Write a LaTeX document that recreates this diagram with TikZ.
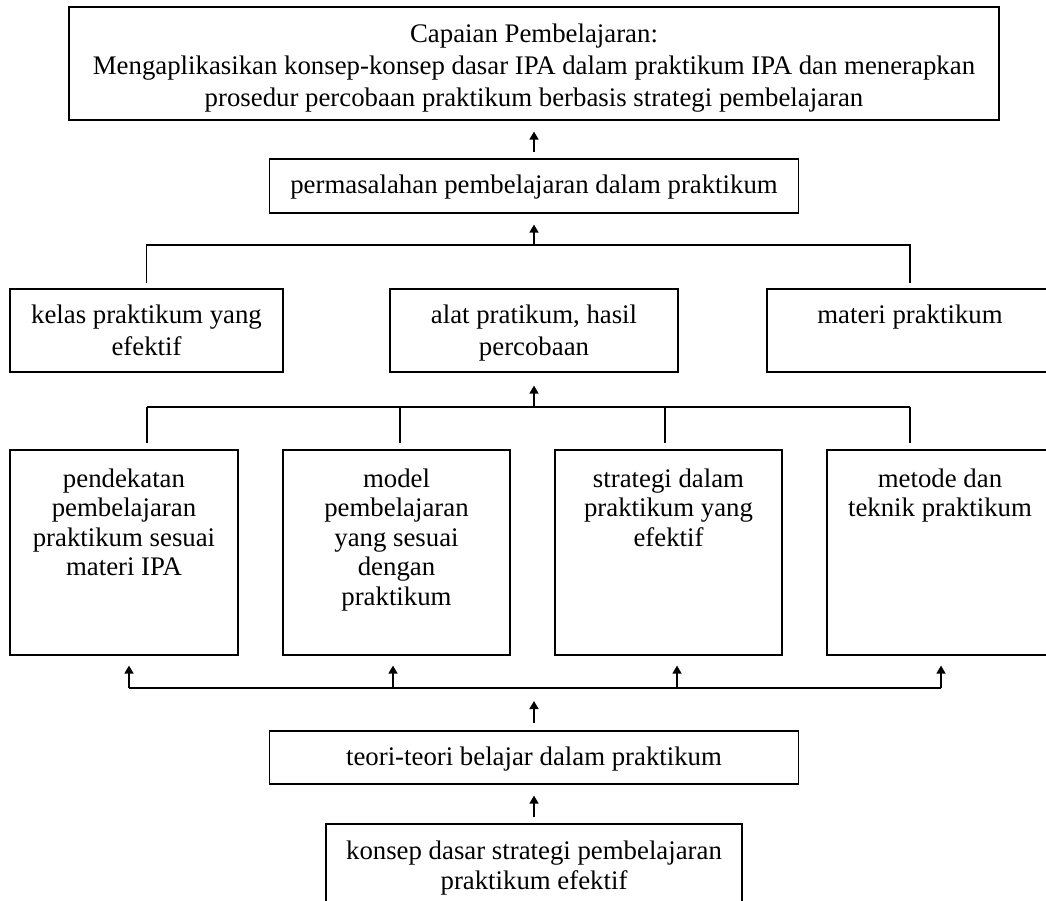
\documentclass[tikz,border=0pt]{standalone}
\usepackage{fontspec}
\setmainfont{Liberation Serif}
\usetikzlibrary{arrows.meta,calc}
\newcommand{\bxt}[5]{\parbox[c][#2pt][t]{#1pt}{\centering\fontsize{26.8pt}{#3pt}\selectfont\rule{0pt}{#4pt}#5}}
\tikzset{
  boxn/.style={draw, line width=1.6pt, inner sep=0pt, anchor=north},
  ln/.style={line width=1.5pt},
  arr/.style={line width=1.5pt, -{Triangle[width=9pt,length=8pt]}}
}
\begin{document}
\begin{tikzpicture}[x=1pt,y=-1pt]
\useasboundingbox (0,0) rectangle (1046,901);
\clip (0,0) rectangle (1046,901);
% boxes
\node[boxn] (cp) at (534,6) {\bxt{930}{113}{32}{36}{Capaian Pembelajaran:\\Mengaplikasikan konsep-konsep dasar IPA dalam praktikum IPA dan menerapkan\\prosedur percobaan praktikum berbasis strategi pembelajaran}};
\node[boxn] (perm) at (534,158) {\bxt{529}{54}{32}{35}{permasalahan pembelajaran dalam praktikum}};
\node[boxn] (kelas) at (146.5,288) {\bxt{273}{83}{32}{35}{kelas praktikum yang\\efektif}};
\node[boxn] (alat) at (534,288) {\bxt{288}{83}{32}{35}{alat pratikum, hasil\\percobaan}};
\node[boxn] (materi) at (910,288) {\bxt{286}{83}{32}{35}{materi praktikum}};
\node[boxn] (pend) at (124,449) {\bxt{228}{205}{29.5}{37.5}{pendekatan\\pembelajaran\\praktikum sesuai\\materi IPA}};
\node[boxn] (model) at (396.5,449) {\bxt{227}{205}{29.5}{37.5}{model\\pembelajaran\\yang sesuai\\dengan\\praktikum}};
\node[boxn] (strat) at (668.5,449) {\bxt{227}{205}{29.5}{37.5}{strategi dalam\\praktikum yang\\efektif}};
\node[boxn] (metode) at (940,449) {\bxt{226}{205}{29.5}{37.5}{metode dan\\teknik praktikum}};
\node[boxn] (teori) at (534,730) {\bxt{529}{53}{32}{35}{teori-teori belajar dalam praktikum}};
\node[boxn] (konsep) at (534,823) {\bxt{416}{87}{30}{36}{konsep dasar strategi pembelajaran\\praktikum efektif}};
% arrow perm -> cp
\draw[arr] ($(perm.north)+(0,-6)$) -- ($(cp.south)+(0,11)$);
% bus 1
\coordinate (bus1) at (534,245);
\draw[ln] ($(kelas.north)+(0,-5)$) |- (bus1) -| ($(materi.north)+(0,-5)$);
\draw[arr] (bus1) -- ($(bus1 |- perm.south)+(0,11)$);
% bus 2
\coordinate (bus2) at (534,407);
\coordinate (d1) at (147,407);
\coordinate (d2) at (400,407);
\coordinate (d3) at (665,407);
\coordinate (d4) at (910,407);
\draw[ln] (d1) -- (d4);
\draw[ln] (d1) -- ($(d1 |- pend.north)+(0,-6)$);
\draw[ln] (d2) -- ($(d2 |- model.north)+(0,-6)$);
\draw[ln] (d3) -- ($(d3 |- strat.north)+(0,-6)$);
\draw[ln] (d4) -- ($(d4 |- metode.north)+(0,-6)$);
\draw[arr] (bus2) -- ($(bus2 |- alat.south)+(0,13)$);
% bus 3
\coordinate (u1) at (129,688);
\coordinate (u2) at (393,688);
\coordinate (u3) at (677,688);
\coordinate (u4) at (941,688);
\draw[ln] (u1) -- (u4);
\draw[arr] (u1) -- ($(u1 |- pend.south)+(0,10)$);
\draw[arr] (u2) -- ($(u2 |- model.south)+(0,10)$);
\draw[arr] (u3) -- ($(u3 |- strat.south)+(0,10)$);
\draw[arr] (u4) -- ($(u4 |- metode.south)+(0,10)$);
\draw[arr] ($(teori.north)+(0,-7)$) -- ($(teori.north |- u1)+(0,13)$);
% konsep -> teori
\draw[arr] ($(konsep.north)+(0,-6)$) -- ($(teori.south)+(0,11)$);
\end{tikzpicture}
\end{document}
